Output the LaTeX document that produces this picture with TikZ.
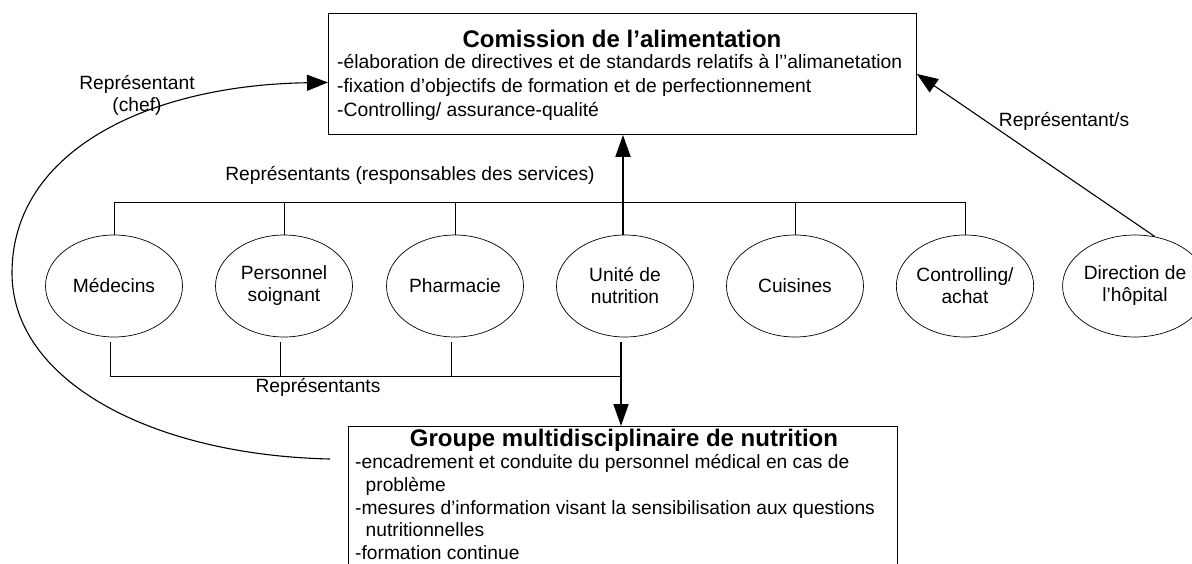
\documentclass[tikz,border=0pt]{standalone}
\usepackage{fontspec}
\setmainfont{Liberation Sans}
\usetikzlibrary{arrows.meta,shapes.geometric}
\begin{document}
\begin{tikzpicture}[x=1pt,y=-1pt,
  every node/.style={font=\fontsize{19.2}{22}\selectfont},
  unit/.style={draw, ellipse, minimum width=137pt, minimum height=102pt, inner sep=0pt, align=center, line width=0.7pt},
  box/.style={draw, line width=0.9pt, anchor=north west, inner sep=0pt},
  lbl/.style={inner sep=0pt},
  ttl/.style={inner sep=0pt, font=\fontsize{24}{28}\selectfont\bfseries},
  link/.style={line width=0.9pt},
  bigarrow/.style={line width=1.8pt, -{Triangle[length=22pt,width=15pt]}},
  thinarrow/.style={line width=1.1pt, -{Triangle[length=21pt,width=16pt]}},
]
\useasboundingbox (0,0) rectangle (1192,563);
\clip (0,0) rectangle (1192,563);

% Commission box
\node[box, minimum width=588pt, minimum height=121pt] (cbox) at (328,13) {};
\node[ttl] (ctitle) at (622,39) {Comission de l’alimentation};
\node[lbl, anchor=north west, align=left, font=\fontsize{19.3}{24}\selectfont] (ctext) at (337,54.5)
  {-élaboration de directives et de standards relatifs à l’{}’alimanetation\\
   -fixation d’objectifs de formation et de perfectionnement\\
   -Controlling/ assurance-qualité};

% Units
\node[unit] (med)   at (114,286) {Médecins};
\node[unit] (pers)  at (284,286) {Personnel\\soignant};
\node[unit] (pharm) at (455,286) {Pharmacie};
\node[unit] (nutr)  at (625,286) {Unité de\\nutrition};
\node[unit] (cuis)  at (795,286) {Cuisines};
\node[unit] (ctl)   at (965,286) {Controlling/\\achat};
\node[unit] (dir)   at (1135,286) {Direction de\\l’hôpital};

% Group box
\node[box, minimum width=549pt, minimum height=170pt] (gbox) at (348,426) {};
\node[ttl] (gtitle) at (624,440) {Groupe multidisciplinaire de nutrition};
\node[lbl, anchor=north west, align=left, font=\fontsize{19.2}{22.6}\selectfont] (gtext) at (355,454.5)
  {-encadrement et conduite du personnel médical en cas de\\
   \hspace*{10.5pt}problème\\
   -mesures d’information visant la sensibilisation aux questions\\
   \hspace*{10.5pt}nutritionnelles\\
   -formation continue};

% Labels
\node[lbl] (lserv) at (410,175) {Représentants (responsables des services)};
\node[lbl] (lrep)  at (318,387) {Représentants};
\node[lbl, align=center] (lchef) at (137,95) {Représentant\\(chef)};
\node[lbl] (ldir)  at (1064,121) {Représentant/s};

% Top bus
\coordinate (busT) at (0,202);
\draw[link] (med.north) |- (ctl.north |- busT) -- (ctl.north);
\foreach \n in {pers,pharm,cuis} \draw[link] (\n.north) -- (\n.north |- busT);
\draw[bigarrow] ([xshift=-2pt]nutr.north) -- ([xshift=-2pt]nutr.north |- cbox.south);

% Bottom bus
\coordinate (busB) at (0,376);
\draw[link] ([xshift=-4pt,yshift=-5pt]med.south) |- ([xshift=-4pt]nutr.south |- busB);
\foreach \n in {pers,pharm} \draw[link] ([xshift=-4pt,yshift=-5pt]\n.south) -- ([xshift=-4pt]\n.south |- busB);
\draw[bigarrow] ([xshift=-4pt,yshift=-5pt]nutr.south) -- ([xshift=-4pt]nutr.south |- gbox.north);

% Chef curve
\coordinate (chefstart) at (330,459);
\draw[thinarrow] (chefstart) .. controls (150,455) and (12,380) .. (12,273)
  .. controls (12,150) and (150,85) .. ([yshift=-8.5pt]cbox.west);

% Direction arrow
\draw[thinarrow] (dir.68) -- (cbox.east);
\end{tikzpicture}
\end{document}
